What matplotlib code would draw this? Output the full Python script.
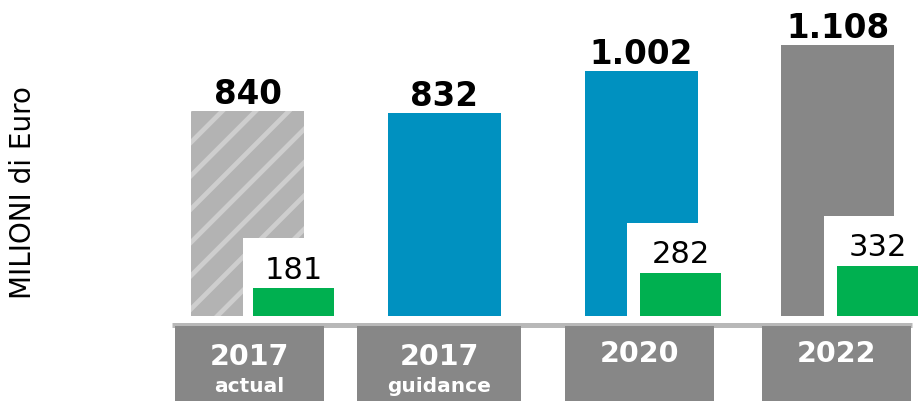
import matplotlib
matplotlib.use("Agg")
import matplotlib.pyplot as plt
from matplotlib.patches import Rectangle

# ---- data ----
years = ["2017", "2017", "2020", "2022"]
subtitles = ["actual", "guidance", "", ""]
main_values = [840, 832, 1002, 1108]
main_labels = ["840", "832", "1.002", "1.108"]
green_values = [181, None, 282, 332]
green_labels = ["181", "", "282", "332"]
ylabel = "MILIONI di Euro"

# ---- styles ----
BLUE = "#0091c0"
GREY = "#878787"
HATCH_BASE = "#b3b3b3"
HATCH_LINE = "#cecece"
GREEN = "#00b050"
main_colors = [HATCH_BASE, BLUE, BLUE, GREY]
green_offsets_px = [5.5, 0, -1, -1]
box_pad_px = [10, 0, 13, 13]

plt.rcParams["hatch.linewidth"] = 3.4
plt.rcParams["font.family"] = ["DejaVu Sans"]

W, H = 918, 401
fig = plt.figure(figsize=(W / 100, H / 100), dpi=100)

# pixel geometry
x0_px, step_px = 247.5, 196.8
left_px, right_px = 172, 918
base_px = 316
scale_main = 0.2445   # px per unit
scale_green = 0.152

xlim = ((left_px - x0_px) / step_px, (right_px - x0_px) / step_px)
ax = fig.add_axes([left_px / W, (H - base_px) / H, (right_px - left_px) / W, base_px / H])
ax.set_xlim(*xlim)
ax.set_ylim(0, base_px / scale_main)
ax.axis("off")

ax2 = ax.twinx()
ax2.set_ylim(0, base_px / scale_green)
ax2.axis("off")

xs = list(range(len(years)))
bw = 113 / step_px
bars = ax.bar(xs, main_values, width=bw, color=main_colors, edgecolor="none", zorder=2)
bars[0].set_hatch("/")
bars[0].set_edgecolor(HATCH_LINE)
bars[0].set_linewidth(0)

for x, v, lab in zip(xs, main_values, main_labels):
    ax.annotate(lab, (x, v), xytext=(0, 5), textcoords="offset points",
                ha="center", va="baseline", fontsize=23.5, fontweight="bold",
                color="black", zorder=5)

# white label boxes + green bars (secondary scale)
gw = 81 / step_px
for x, g, lab, off, pad in zip(xs, green_values, green_labels, green_offsets_px, box_pad_px):
    if g is None:
        continue
    goff = off / step_px
    gtop_px = g * scale_green
    box_left = x + goff - pad / step_px
    box_right = x + bw / 2
    box_top = (gtop_px + 50) / scale_green
    ax2.add_patch(Rectangle((box_left, 0), box_right - box_left, box_top,
                            facecolor="white", edgecolor="none", zorder=3))
    ax2.bar([x + goff], [g], width=gw, align="edge", color=GREEN, edgecolor="none", zorder=4)
    ax2.annotate(lab, (x + goff + gw / 2, g), xytext=(0, 7), textcoords="offset points",
                 ha="center", va="baseline", fontsize=22, color="black", zorder=5)

# axis line
line_y = -(324.5 - base_px) / scale_main
ax.plot([xlim[0], (912 - x0_px) / step_px], [line_y, line_y], color="#b8b8b8",
        lw=3.6, solid_capstyle="butt", clip_on=False, zorder=1)

# category boxes
box_px = [(175, 324), (357, 521), (565, 714), (762, 911)]
box_top = -(326 - base_px) / scale_main
box_bot = -(H + 2 - base_px) / scale_main
for (l, r), yr, sub in zip(box_px, years, subtitles):
    xl = (l - x0_px) / step_px
    xr = (r - x0_px) / step_px
    ax.add_patch(Rectangle((xl, box_bot), xr - xl, box_top - box_bot,
                           facecolor=GREY, edgecolor="none", clip_on=False, zorder=2))
    xc = (xl + xr) / 2
    if sub:
        ax.text(xc, -(365 - base_px) / scale_main, yr, ha="center", va="baseline",
                fontsize=20.5, fontweight="bold", color="white", zorder=3)
        ax.text(xc, -(392 - base_px) / scale_main, sub, ha="center", va="baseline",
                fontsize=14.5, fontweight="bold", color="white", zorder=3)
    else:
        ax.text(xc, -(362 - base_px) / scale_main, yr, ha="center", va="baseline",
                fontsize=20.5, fontweight="bold", color="white", zorder=3)

fig.text(23 / W, 1 - 193 / H, ylabel, rotation=90, ha="center", va="center",
         fontsize=20, color="black")

fig.savefig("out.png", dpi=100)
